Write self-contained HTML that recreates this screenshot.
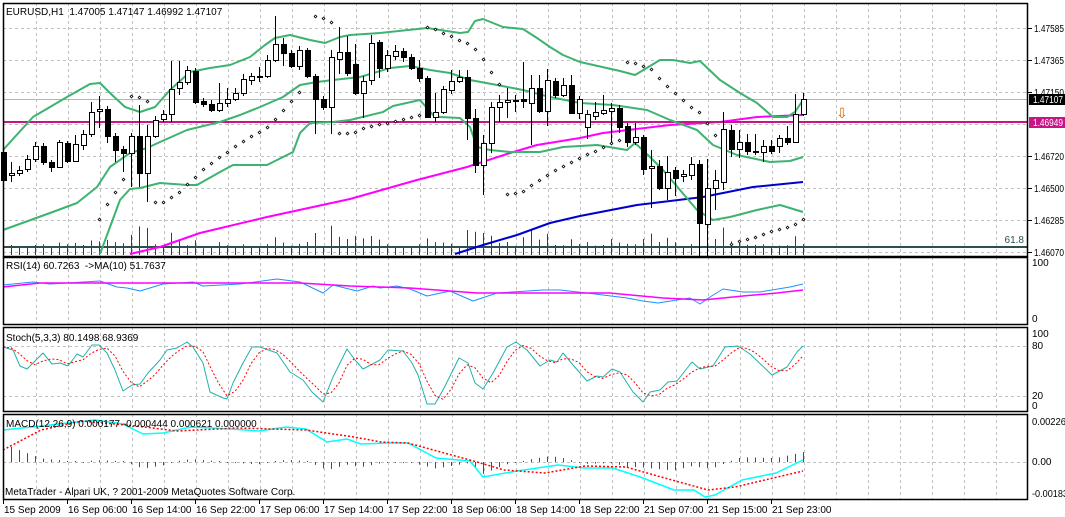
<!DOCTYPE html>
<html><head><meta charset="utf-8"><style>
html,body{margin:0;padding:0;background:#fff;}
svg{display:block;font-family:"Liberation Sans",sans-serif;}
</style></head><body>
<svg id="s" width="1065" height="517" xmlns="http://www.w3.org/2000/svg"></svg>
<script>
var S=document.getElementById('s'),out=[];
function add(t){out.push(t);}
function pl(p,c,w,d){var s=p.map(function(q){return q[0]+','+q[1]}).join(' ');add('<polyline points="'+s+'" fill="none" stroke="'+c+'" stroke-width="'+w+'"'+(d?' stroke-dasharray="'+d+'"':'')+' stroke-linejoin="round"/>');}
function ln(x1,y1,x2,y2,c,w,d){add('<line x1="'+x1+'" y1="'+y1+'" x2="'+x2+'" y2="'+y2+'" stroke="'+c+'" stroke-width="'+(w||1)+'"'+(d?' stroke-dasharray="'+d+'"':'')+'/>');}
function tx(x,y,t,c,sz,a,tl){add('<text x="'+x+'" y="'+y+'" font-size="'+(sz||10)+'" fill="'+(c||'#000')+'"'+(a?' text-anchor="'+a+'"':'')+(tl?' textLength="'+tl+'" lengthAdjust="spacingAndGlyphs"':'')+'>'+t+'</text>');}
function interp(p,x){if(x<=p[0][0])return p[0][1];for(var i=1;i<p.length;i++){if(x<=p[i][0]){var a=p[i-1],b=p[i];return a[1]+(b[1]-a[1])*(x-a[0])/(b[0]-a[0]);}}return p[p.length-1][1];}
var GR='#c0c0c0',DS='3,3';
var panels=[[3,256],[257,324],[327,411],[414,499]];
panels.forEach(function(p){for(var x=36;x<1028;x+=32)ln(x+.5,p[0],x+.5,p[1],GR,1,DS);});
[28,60,92,124,156,188,220,252].forEach(function(y){ln(3,y+.5,1028,y+.5,GR,1,DS);});
ln(3,324.5,1028,324.5,GR,1,DS);
ln(3,346.5,1028,346.5,GR,1,DS);ln(3,396.5,1028,396.5,GR,1,DS);ln(3,462.5,1028,462.5,GR,1,DS);
ln(3,99.5,1028,99.5,'#b4b4b4',1);
var C=[[152,180,0,148,184],[173,175,1,162,182],[170,173,1,166,176],[159,169,1,155,172],[146,159,1,142,162],[146,162,0,143,165],[162,167,0,160,172],[142,167,1,140,168],[143,161,0,141,163],[144,161,1,135,162],[134,145,1,130,150],[112,134,1,102,137],[109,111,1,96,128],[109,136,0,106,143],[136,150,0,133,162],[149,153,0,146,172],[136,153,1,133,187],[136,173,0,105,187],[136,173,1,125,202],[120,136,1,116,138],[114,119,1,110,122],[89,114,1,61,122],[82,88,1,61,95],[70,82,1,66,85],[71,102,0,68,104],[101,104,0,98,107],[104,110,0,100,112],[103,110,1,83,112],[99,103,1,88,107],[93,99,1,88,101],[79,93,1,74,96],[76,80,1,73,85],[76,77,0,67,82],[60,76,1,55,78],[44,60,1,16,62],[44,53,0,38,66],[53,66,0,50,68],[50,66,1,46,70],[50,76,0,48,78],[76,99,0,74,134],[99,107,0,96,110],[57,107,1,50,134],[52,59,1,27,74],[52,73,0,36,76],[64,93,0,44,95],[81,93,1,76,118],[43,80,1,35,85],[42,68,0,40,78],[55,68,1,50,72],[51,56,1,45,60],[51,57,0,48,62],[57,68,0,54,70],[68,78,0,60,82],[78,117,0,76,118],[112,117,1,93,122],[89,112,1,86,114],[81,90,1,70,94],[77,81,1,70,83],[77,118,0,70,140],[118,165,0,109,173],[143,165,1,135,195],[107,143,1,102,153],[102,107,1,95,122],[100,102,1,88,118],[100,101,1,95,112],[99,101,0,62,108],[88,103,1,75,145],[88,111,0,75,113],[80,111,1,69,126],[81,95,0,78,98],[85,95,1,78,97],[85,113,0,75,114],[99,113,1,96,119],[114,127,1,110,139],[112,116,1,102,120],[110,113,1,95,115],[108,111,1,103,143],[108,127,0,105,133],[126,142,0,123,147],[137,142,1,123,145],[137,169,0,135,175],[166,168,1,150,208],[166,188,0,160,190],[172,188,1,156,200],[170,178,0,167,196],[174,176,1,170,182],[164,175,1,157,180],[164,223,0,160,257],[188,224,1,159,257],[180,188,1,170,210],[129,182,1,112,190],[130,149,0,125,157],[142,149,1,130,158],[142,151,0,134,155],[151,152,0,134,155],[146,152,1,140,162],[146,151,0,140,154],[138,146,1,135,153],[138,142,0,126,145],[114,142,1,94,143],[99,114,1,93,116]];
C.forEach(function(c,i){var x=3+8*i+.5;var h=Math.min(30,4+(c[4]-c[3])*0.3);ln(x,255,x,255-h,'#006400',1);});
ln(3,247,1028,247,'#2f4f4f',2);
tx(1024,243,'61.8','#2f4f4f',10,'end');
pl([[130,254],[160,247],[200,233],[267,217],[350,199],[417,180],[467,167],[510,153],[537,145],[580,138],[603,133],[670,125],[720,122],[757,117],[803,115]],'#ff00ff',2);
pl([[455,254],[483,245],[517,235],[550,223],[580,216],[637,205],[703,197],[753,187],[803,182]],'#0000cd',2);
ln(3,122,1028,122,'#c71585',2);
var BBC='#3cb371';
pl([[3,150],[33,117],[67,97],[90,84],[100,83],[110,93],[125,107],[140,112],[155,107],[170,90],[190,72],[210,68],[230,65],[250,57],[265,45],[275,38],[290,35],[310,40],[325,43],[340,37],[350,35],[380,33],[427,28],[460,33],[468,32],[475,21],[483,19],[503,27],[523,29],[537,38],[550,47],[563,55],[580,62],[620,71],[635,75],[660,60],[673,60],[690,63],[700,61],[720,80],[740,93],[757,103],[773,117],[787,117],[795,112],[803,100]],BBC,2);
pl([[3,230],[50,213],[77,203],[97,187],[110,167],[130,153],[147,148],[160,142],[187,130],[220,122],[240,115],[260,107],[283,97],[300,85],[317,82],[333,80],[360,77],[390,68],[410,66],[430,70],[450,73],[470,80],[497,85],[523,90],[550,97],[580,103],[613,105],[647,110],[670,120],[697,130],[713,145],[737,155],[770,162],[790,161],[803,157]],BBC,2);
pl([[100,254],[110,227],[120,200],[130,189],[140,188],[160,183],[187,185],[197,185],[220,172],[233,165],[267,165],[283,157],[293,152],[300,133],[310,123],[333,122],[350,120],[383,112],[393,106],[420,100],[433,115],[440,117],[460,118],[470,127],[477,147],[490,150],[510,152],[540,152],[563,147],[580,146],[597,145],[627,150],[635,143],[650,157],[663,170],[680,190],[697,210],[713,220],[730,217],[757,210],[780,205],[803,212]],BBC,2);
C.forEach(function(c,i){var x=3+8*i;ln(x+.5,c[3],x+.5,c[4],'#000',1);var h=Math.max(1,c[1]-c[0]);add('<rect x="'+(x-2)+'.5" y="'+(c[0]+.5)+'" width="5" height="'+h+'" fill="'+(c[2]?'#fff':'#000')+'" stroke="#000" stroke-width="1"/>');});
var SAR=[[99,219],[107,204],[115,192],[123,179],[131,96],[139,97],[147,101],[155,202],[163,202],[171,197],[179,192],[187,184],[195,177],[203,169],[211,163],[219,157],[227,152],[235,146],[243,141],[251,136],[259,132],[267,127],[275,119],[283,110],[291,101],[299,92],[315,16],[323,18],[331,22],[339,133],[347,133],[355,132],[363,128],[371,126],[379,124],[387,123],[395,121],[403,119],[411,117],[419,115],[427,27],[435,29],[443,33],[451,36],[459,40],[467,43],[475,49],[483,59],[491,72],[499,84],[507,194],[515,193],[523,191],[531,185],[539,180],[547,175],[555,170],[563,166],[571,162],[579,158],[587,154],[595,151],[603,147],[611,143],[619,140],[627,62],[635,63],[643,66],[651,69],[659,78],[667,86],[675,93],[683,100],[691,107],[699,112],[707,123],[715,135],[731,244],[739,241],[747,239],[755,237],[763,234],[771,231],[779,229],[787,227],[795,224],[803,219]];
SAR.forEach(function(p){add('<rect x="'+(p[0]-1)+'.5" y="'+(p[1]-1)+'.5" width="2" height="2" fill="#fff" stroke="#000" stroke-width="0.8" transform="rotate(45 '+(p[0]+.5)+' '+(p[1]+.5)+')"/>');});
tx(842,118,'⇩','#c86400',14,'middle');
pl([[3,285],[33,282],[50,284],[100,281],[117,287],[127,288],[140,291],[163,284],[193,282],[203,286],[240,284],[277,279],[300,282],[323,293],[333,285],[357,291],[373,286],[380,288],[397,286],[410,289],[427,296],[450,291],[473,301],[497,293],[543,290],[560,290],[587,293],[627,298],[643,301],[658,303],[677,300],[690,298],[700,304],[710,297],[723,289],[743,292],[760,292],[790,287],[803,284]],'#1e90ff',1);
pl([[3,287],[40,283],[300,283],[350,286],[410,288],[477,293],[610,293],[663,298],[703,300],[743,296],[777,293],[803,290]],'#ff00ff',1.5);
var ST=[[3,347],[13,350],[20,366],[27,369],[33,363],[43,353],[52,364],[60,363],[68,366],[77,354],[83,357],[92,345],[99,345],[107,353],[115,370],[123,391],[132,385],[140,384],[148,373],[160,360],[167,350],[177,348],[187,342],[193,347],[203,363],[210,392],[223,398],[227,399],[233,383],[243,363],[252,347],[260,347],[277,353],[290,372],[303,380],[312,392],[323,402],[333,377],[347,349],[355,360],[363,369],[380,360],[388,350],[403,351],[412,363],[418,375],[427,404],[435,404],[443,390],[459,358],[468,363],[475,383],[483,389],[493,373],[507,347],[516,342],[527,350],[540,366],[550,360],[557,362],[563,353],[573,365],[587,381],[597,376],[603,377],[612,369],[620,372],[633,392],[643,402],[650,392],[660,390],[668,382],[677,381],[692,362],[700,369],[713,366],[725,347],[738,346],[750,354],[772,375],[787,367],[797,352],[803,346]];
pl(ST,'#20b2aa',1);
var sig=[],v=[];for(var i=0;i<=100;i++)v.push(interp(ST,3+8*i));
for(var i=0;i<=100;i++){var a=v[Math.max(0,i-2)],b=v[Math.max(0,i-1)];sig.push([3+8*i,(a+b+v[i])/3]);}
pl(sig,'#ff0000',1,'2,2');
var MC=[[3,430],[41,426],[95,420],[123,424],[143,434],[163,433],[191,427],[231,429],[259,431],[286,427],[306,429],[327,442],[347,439],[361,444],[388,443],[408,443],[436,458],[470,461],[483,477],[517,471],[558,465],[585,468],[613,468],[640,477],[674,490],[694,490],[705,497],[715,495],[742,480],[776,473],[803,460]];
var MS=[[3,450],[41,430],[82,421],[136,426],[177,431],[238,428],[306,430],[354,437],[381,442],[408,443],[477,462],[504,470],[545,473],[585,466],[626,467],[654,475],[708,490],[735,487],[803,471]];
for(var i=0;i<=100;i++){var x=3+8*i,d=interp(MS,x)-interp(MC,x);d*=0.9;if(Math.abs(d)<1)d=d<0?-1:1;ln(x+.5,462,x+.5,462-d,d>0?'#008000':'#ff0000',1);}
pl(MC,'#00ffff',1.5);
pl(MS,'#ff0000',1.5,'2,2');
panels.forEach(function(p){add('<rect x="3.5" y="'+(p[0]+.5)+'" width="1024" height="'+(p[1]-p[0])+'" fill="none" stroke="#000" stroke-width="1.5"/>');});
tx(6,15,'EURUSD,H1&#160; 1.47005 1.47147 1.46992 1.47107','#000',10);
tx(6,269,'RSI(14) 60.7263&#160; -&gt;MA(10) 51.7637','#000',10);
tx(6,341,'Stoch(5,3,3) 80.1498 68.9369','#000',10);
tx(6,427,'MACD(12,26,9) 0.000177 -0.000444 0.000621 0.000000','#000',10);
tx(5,495,'MetaTrader - Alpari UK, ? 2001-2009 MetaQuotes Software Corp.','#000',10);
[[28,'1.47585'],[60,'1.47365'],[92,'1.47150'],[156,'1.46720'],[188,'1.46500'],[220,'1.46285'],[252,'1.46070']].forEach(function(a){ln(1028,a[0]+.5,1032,a[0]+.5,'#000',1);tx(1034,a[0]+4,a[1],'#000',10,null,30);});
add('<rect x="1029" y="94" width="36" height="11" fill="#000"/>');tx(1033,103,'1.47107','#fff',10,null,30);
add('<rect x="1029" y="117" width="36" height="11" fill="#c71585"/>');tx(1033,126,'1.46949','#fff',10,null,30);
tx(1032,266,'100');tx(1032,322,'0');
tx(1032,337,'100');tx(1032,349,'80');tx(1032,399,'20');tx(1032,409,'0');
tx(1032,425,'0.00226','#000',10,null,34);tx(1032,465,'0.00');tx(1032,497,'-0.00183','#000',10,null,36);
var TL=['15 Sep 2009','16 Sep 06:00','16 Sep 14:00','16 Sep 22:00','17 Sep 06:00','17 Sep 14:00','17 Sep 22:00','18 Sep 06:00','18 Sep 14:00','18 Sep 22:00','21 Sep 07:00','21 Sep 15:00','21 Sep 23:00'];
TL.forEach(function(t,k){var x=3+64*k;ln(x+.5,500,x+.5,504,'#000',1);tx(x+1,513,t);});
S.innerHTML=out.join('');
</script>
</body></html>
